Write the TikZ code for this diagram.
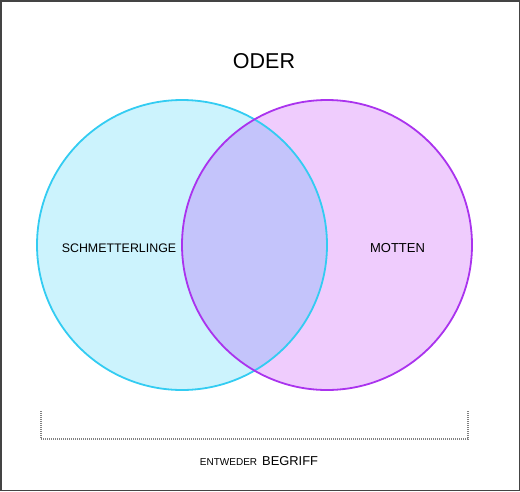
\documentclass[tikz,border=0pt]{standalone}
\usepackage{fontspec}
\setmainfont{Liberation Sans}
\definecolor{cyanfill}{HTML}{CCF3FD}
\definecolor{cyanline}{HTML}{33CCF2}
\definecolor{purpfill}{HTML}{EFCCFD}
\definecolor{purpline}{HTML}{AA33EE}
\definecolor{bothfill}{HTML}{C4C4FB}
\definecolor{framegray}{HTML}{444444}
\tikzset{
  lbl/.style={inner sep=0pt, font=\fontsize{12.6pt}{14pt}\selectfont},
  setline/.style={line width=1.8pt},
}
\begin{document}
\begin{tikzpicture}[x=1pt,y=-1pt]
\useasboundingbox (0,0) rectangle (520,491);
\draw[framegray, line width=1.5pt] (0.75,0.75) rectangle (519.25,490.25);
% fills
\fill[cyanfill] (182,245) circle[radius=145];
\fill[purpfill] (327,245) circle[radius=145];
\begin{scope}
  \clip (182,245) circle[radius=145];
  \fill[bothfill] (327,245) circle[radius=145];
\end{scope}
% outlines
\node[circle, draw=cyanline, setline, minimum size=290pt, inner sep=0pt] (left) at (182,245) {};
\node[circle, draw=purpline, setline, minimum size=290pt, inner sep=0pt] (right) at (327,245) {};
% labels
\node[inner sep=0pt, font=\fontsize{21.5pt}{24pt}\selectfont] (title) at (264,61) {ODER};
\node[lbl, font=\fontsize{12.4pt}{14pt}\selectfont] (schm) at (119,248.5) {SCHMETTERLINGE};
\node[lbl, font=\fontsize{13pt}{15pt}\selectfont] (motten) at (397.5,248.5) {MOTTEN};
% bracket
\coordinate (bl) at (41,411);
\coordinate (br) at (468,411);
\draw[gray, line width=1.5pt, dash pattern=on 1pt off 1pt] (bl) -- (41,439) -- (468,439) -- (br);
\node[inner sep=0pt, anchor=base] (caption) at (259,465.5) {\fontsize{10pt}{12pt}\selectfont ENTWEDER\hspace{5pt}\fontsize{12.9pt}{14pt}\selectfont BEGRIFF};
\end{tikzpicture}
\end{document}
